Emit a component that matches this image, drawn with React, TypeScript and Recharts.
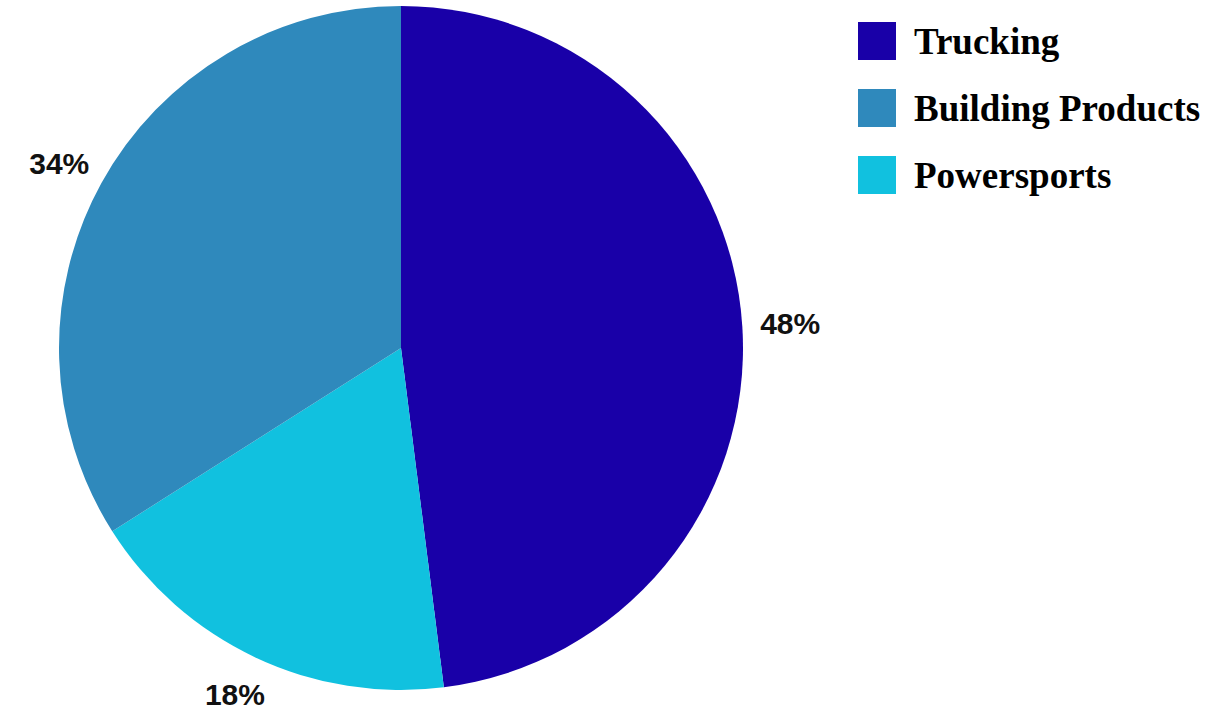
import { PieChart, Pie, Cell } from "recharts";

// slice order, clockwise from 12 o'clock
const segments = ["Trucking", "Powersports", "Building Products"];
const shares = [48, 18, 34];
const colors = ["#1900A8", "#11C1DF", "#2F89BC"];

// legend order as shown in the picture
const legendNames = ["Trucking", "Building Products", "Powersports"];

const data = segments.map((name, i) => ({ name, value: shares[i] }));

const RAD = Math.PI / 180;

const renderLabel = (props: any) => {
  const { cx, cy, midAngle, outerRadius, value } = props;
  // labels sit a bit further out sideways than up/down
  const x = cx + (outerRadius + 48) * Math.cos(-midAngle * RAD);
  const y = cy + (outerRadius + 41) * Math.sin(-midAngle * RAD);
  return (
    <text
      x={x}
      y={y}
      textAnchor="middle"
      dominantBaseline="central"
      fill="#111"
      fontFamily="'Liberation Sans', Arial, sans-serif"
      fontWeight="bold"
      fontSize={30}
    >
      {value}%
    </text>
  );
};

function ChartLegend() {
  return (
    <div style={{ position: "absolute", left: 858, top: 22 }}>
      {legendNames.map((name) => {
        const color = colors[segments.indexOf(name)];
        return (
          <div key={name} style={{ display: "flex", alignItems: "flex-start", height: 67 }}>
            <div style={{ width: 38, height: 38, background: color }} />
            <span
              style={{
                marginLeft: 18,
                fontFamily: "'Liberation Serif', 'Times New Roman', serif",
                fontWeight: "bold",
                fontSize: 37,
                color: "#000",
                lineHeight: "40px",
              }}
            >
              {name}
            </span>
          </div>
        );
      })}
    </div>
  );
}

export default function App() {
  return (
    <div style={{ position: "absolute", left: 0, top: 0, width: 1229, height: 710, background: "#fff" }}>
      <PieChart width={1229} height={710} margin={{ top: 0, right: 0, bottom: 0, left: 0 }}>
        <Pie
          data={data}
          dataKey="value"
          nameKey="name"
          cx={401}
          cy={348}
          outerRadius={342}
          startAngle={90}
          endAngle={-270}
          stroke="none"
          label={renderLabel}
          labelLine={false}
          isAnimationActive={false}
        >
          {data.map((d, i) => (
            <Cell key={d.name} fill={colors[i]} />
          ))}
        </Pie>
      </PieChart>
      <ChartLegend />
    </div>
  );
}
